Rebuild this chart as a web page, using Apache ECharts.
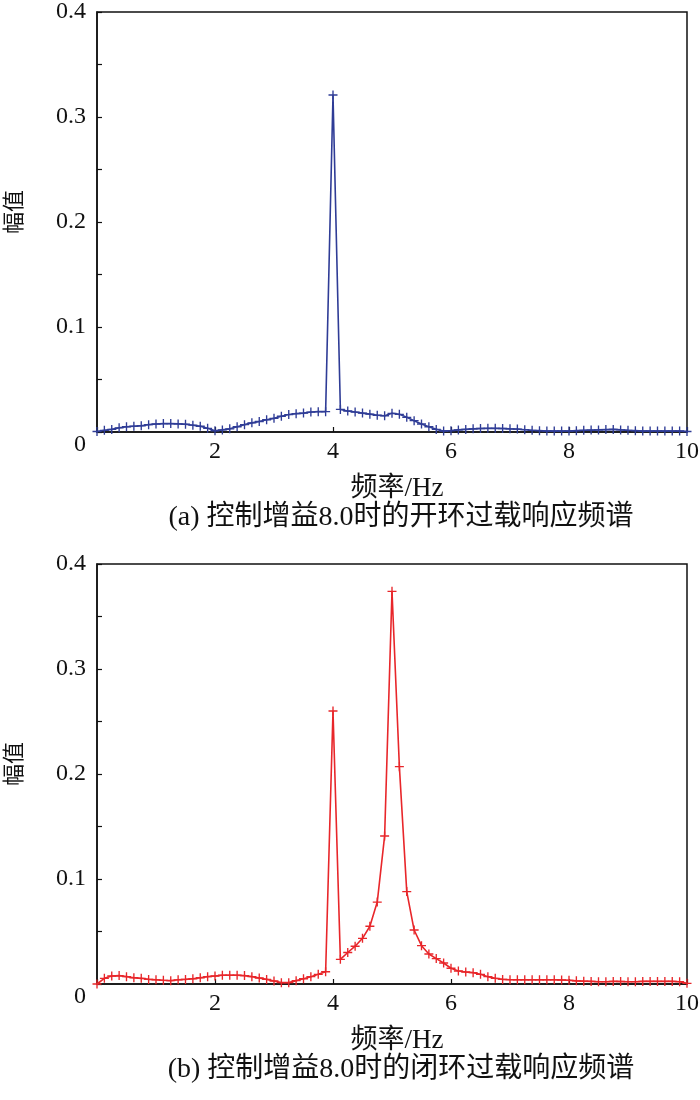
<!DOCTYPE html>
<html>
<head>
<meta charset="utf-8">
<script src="https://cdn.jsdelivr.net/npm/echarts@6/dist/echarts.min.js"></script>
<style>
html,body{margin:0;padding:0;background:#fff;}
#chart{width:700px;height:1100px;}
</style>
</head>
<body>
<div id="chart"></div>
<script>
// Frequency samples (Hz)
const freq = [
 0,0.125,0.25,0.375,0.5,0.625,0.75,0.875,
 1,1.125,1.25,1.375,1.5,1.625,1.75,1.875,
 2,2.125,2.25,2.375,2.5,2.625,2.75,2.875,
 3,3.125,3.25,3.375,3.5,3.625,3.75,3.875,
 4,4.125,4.25,4.375,4.5,4.625,4.75,4.875,
 5,5.125,5.25,5.375,5.5,5.625,5.75,5.875,
 6,6.125,6.25,6.375,6.5,6.625,6.75,6.875,
 7,7.125,7.25,7.375,7.5,7.625,7.75,7.875,
 8,8.125,8.25,8.375,8.5,8.625,8.75,8.875,
 9,9.125,9.25,9.375,9.5,9.625,9.75,9.875,
 10
];
// (a) open-loop amplitude
const openLoop = [
 0.0005,0.0016,0.0025,0.004,0.005,0.0055,0.006,0.007,
 0.0076,0.008,0.008,0.0077,0.0074,0.0065,0.0055,0.0035,
 0.0012,0.002,0.003,0.005,0.007,0.0087,0.010,0.0117,
 0.013,0.015,0.0166,0.0175,0.018,0.019,0.0194,0.0194,
 0.321,0.0215,0.020,0.019,0.018,0.017,0.016,0.0155,
 0.0178,0.0168,0.014,0.0108,0.0076,0.005,0.0025,0.001,
 0.0013,0.002,0.0025,0.003,0.0033,0.0035,0.0035,0.0033,
 0.003,0.0028,0.0022,0.0016,0.0013,0.001,0.001,0.001,
 0.001,0.0013,0.0016,0.0018,0.002,0.0023,0.0025,0.002,
 0.0016,0.0013,0.001,0.001,0.001,0.001,0.001,0.001,
 0.0005
];
// (b) closed-loop amplitude
const closedLoop = [
 0.0,0.0054,0.0076,0.008,0.007,0.006,0.0054,0.0044,
 0.004,0.0035,0.0032,0.004,0.0044,0.005,0.006,0.007,
 0.0076,0.0083,0.0083,0.0083,0.008,0.007,0.0057,0.0044,
 0.0029,0.0013,0.0013,0.0032,0.005,0.007,0.0092,0.0117,
 0.260,0.0235,0.030,0.036,0.0435,0.055,0.078,0.141,
 0.374,0.207,0.088,0.0514,0.0365,0.0286,0.0242,0.020,
 0.015,0.0124,0.0114,0.0108,0.0092,0.007,0.0054,0.0044,
 0.0041,0.004,0.004,0.004,0.004,0.004,0.004,0.0038,
 0.0035,0.003,0.0027,0.0025,0.0022,0.0022,0.0025,0.0024,
 0.0022,0.0022,0.0025,0.0025,0.0025,0.0025,0.0025,0.0022,
 0.0006
];
const xTicks = [0, 2, 4, 6, 8, 10];
const yTicks = [0, 0.1, 0.2, 0.3, 0.4];
const xName = '频率/Hz';
const yName = '幅值';
const captionA = '(a) 控制增益8.0时的开环过载响应频谱';
const captionB = '(b) 控制增益8.0时的闭环过载响应频谱';

const FONT = '"Liberation Serif","Noto Sans CJK SC",serif';
const PLUS = 'path://M-1.2,-8H1.2V-1.2H8V1.2H1.2V8H-1.2V1.2H-8V-1.2H-1.2Z';

function pairs(ys){ return freq.map((f,i)=>[f, ys[i]]); }

function xAxis(gi){
  return {
    gridIndex: gi, type:'value', min: xTicks[0], max: xTicks[xTicks.length-1], interval: 2,
    name: xName, nameLocation:'middle', nameGap: 43,
    nameTextStyle:{fontFamily:FONT, fontSize:27, color:'#111', padding:[0,0,0,10]},
    axisLine:{show:true, onZero:false, lineStyle:{color:'#111', width:1.5}},
    axisTick:{show:true, inside:true, length:5, lineStyle:{color:'#111', width:1.2}},
    axisLabel:{fontFamily:FONT, fontSize:24, color:'#111', margin:8,
      formatter: function(v){ return v === 0 ? '' : String(v); }},
    splitLine:{show:false}
  };
}
function yAxis(gi){
  return {
    gridIndex: gi, type:'value', min: yTicks[0], max: yTicks[yTicks.length-1], interval: 0.05,
    name: yName, nameLocation:'middle', nameGap: 71, nameRotate: 90,
    nameTextStyle:{fontFamily:FONT, fontSize:22, color:'#111', padding:[0,0,0,20]},
    axisLine:{show:true, onZero:false, lineStyle:{color:'#111', width:1.5}},
    axisTick:{show:true, inside:true, length:5, lineStyle:{color:'#111', width:1.2}},
    axisLabel:{fontFamily:FONT, fontSize:24, color:'#111', margin:11,
      formatter: function(v){
        const k = Math.round(v*100);
        if (k % 10 !== 0) return '';
        if (k === 0) return '{z|0}';
        return String(Math.round(v*10)/10);
      },
      rich:{ z:{fontFamily:FONT, fontSize:24, color:'#111', padding:[26,0,0,0]} }
    },
    splitLine:{show:false}
  };
}
function series(gi, ys, color){
  return {
    type:'line', xAxisIndex: gi, yAxisIndex: gi, data: pairs(ys),
    symbol: PLUS, symbolSize: 9, showSymbol: true,
    lineStyle:{color: color, width: 1.6},
    itemStyle:{color: color, borderWidth: 0},
    animation:false, silent:true
  };
}

const gridCommon = {show:true, borderColor:'#111', borderWidth:1.5, backgroundColor:'transparent',
  containLabel:false, outerBoundsMode:'none'};

const chart = echarts.init(document.getElementById('chart'), null, {renderer:'canvas'});
chart.setOption({
  backgroundColor:'#fff',
  animation:false,
  grid:[
    Object.assign({left:97, top:12, width:590, height:420}, gridCommon),
    Object.assign({left:97, top:564, width:590, height:420}, gridCommon)
  ],
  xAxis:[xAxis(0), xAxis(1)],
  yAxis:[yAxis(0), yAxis(1)],
  series:[
    series(0, openLoop, '#2F3C96'),
    series(1, closedLoop, '#E8262A')
  ],
  graphic:[
    {type:'text', x:401, y:518, style:{text:captionA, font:'28px '+FONT, fill:'#111', align:'center', verticalAlign:'middle'}},
    {type:'text', x:401, y:1070, style:{text:captionB, font:'28px '+FONT, fill:'#111', align:'center', verticalAlign:'middle'}}
  ]
});
</script>
</body>
</html>
